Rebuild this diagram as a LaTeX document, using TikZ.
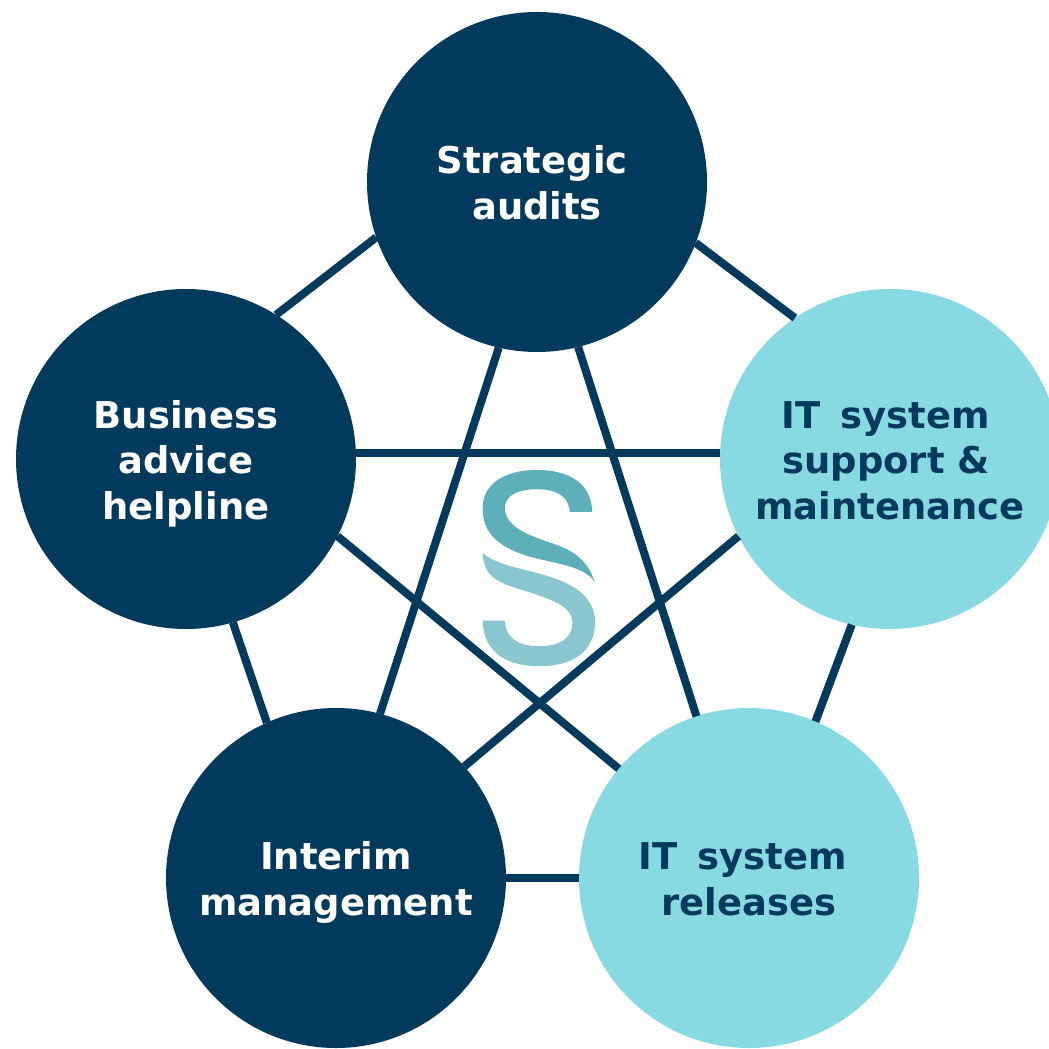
\documentclass[tikz,border=0pt]{standalone}
\usepackage{fontspec}
\setmainfont{DejaVu Sans}
\usepackage{tikz}
\definecolor{navy}{HTML}{023A5E}
\definecolor{aqua}{HTML}{87DAE1}
\definecolor{logotop}{HTML}{5DAFBA}
\definecolor{logobottom}{HTML}{8AC6CF}
\newcommand{\circletext}[1]{\raisebox{-1.6pt}[\height][\depth]{\begin{tabular}{@{}c@{}}#1\end{tabular}}}

\begin{document}
\begin{tikzpicture}[every node/.style={circle, minimum size=3.4cm, inner sep=0pt, outer sep=0pt, font=\fontsize{10.5}{12.95}\selectfont\bfseries},
darkcircle/.style={fill=navy, text=white}, lightcircle/.style={fill=aqua, text=navy},
link/.style={draw=navy, line width=0.08cm}]
\useasboundingbox (0,0) rectangle (10.49,10.48);

\node[darkcircle] (audits) at (5.37,8.66) {\circletext{Strategic\kern2.8pt\\audits}};
\node[lightcircle] (support) at (8.90,5.89) {\circletext{IT\kern2pt{} system\kern2.5pt\\support \&\kern2.2pt\\maintenance}};
\node[lightcircle] (releases) at (7.49,1.70) {\circletext{IT\kern2pt{} system\kern3.6pt\\releases}};
\node[darkcircle] (interim) at (3.36,1.70) {\circletext{Interim\\management}};
\node[darkcircle] (business) at (1.86,5.89) {\circletext{Business\\advice\\helpline}};

\draw[link] (audits.-21) -- (support.124);
\draw[link] (audits.199) -- (business.58);
\draw[link] (audits.-76.5) -- (releases.108);
\draw[link] (audits.257) -- (interim.75);
\draw[link] (business.2) -- (support.178);
\draw[link] (business.-27.5) -- (releases.140);
\draw[link] (business.-74) -- (interim.114);
\draw[link] (support.207.5) -- (interim.41);
\draw[link] (support.257) -- (releases.67);
\draw[link] (interim.0) -- (releases.180);

\begin{scope}[shift={(4.60,5.98)}, x=0.003333cm, y=-0.003333cm]
\fill[logotop] (397,186) .. controls (397,100) and (325,60) .. (232,60) .. controls (130,60) and (68,105) .. (68,175) .. controls (68,250) and (115,290) .. (200,318) .. controls (280,342) and (370,345) .. (405,397) .. controls (385,335) and (345,305) .. (290,285) .. controls (235,265) and (135,240) .. (135,175) .. controls (135,135) and (175,118) .. (232,118) .. controls (290,118) and (328,140) .. (330,186) -- cycle;
\fill[logobottom] (68,310) .. controls (110,345) and (180,355) .. (250,375) .. controls (330,398) and (406,435) .. (406,518) .. controls (406,605) and (340,650) .. (238,650) .. controls (130,650) and (70,600) .. (68,513) -- (135,513) .. controls (137,565) and (175,590) .. (238,590) .. controls (300,590) and (338,565) .. (338,520) .. controls (338,470) and (275,450) .. (210,428) .. controls (115,400) and (72,385) .. (68,310) -- cycle;
\end{scope}
\end{tikzpicture}
\end{document}
